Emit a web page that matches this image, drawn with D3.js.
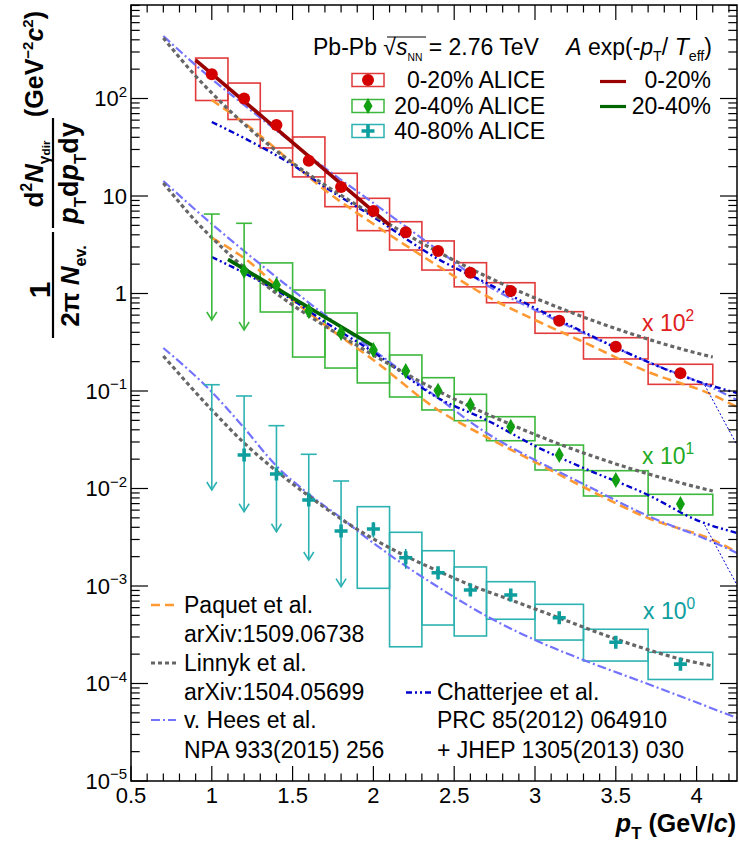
<!DOCTYPE html>
<html><head><meta charset="utf-8">
<script src="https://cdn.jsdelivr.net/npm/d3@7"></script>
<style>body{margin:0;background:#fff}svg{display:block}text{font-family:"Liberation Sans",Arial,Helvetica,sans-serif}</style>
</head><body><svg id="c" width="739" height="845"></svg>
<script>
// ---------------- DATA ----------------
const binCenters = [1.0,1.2,1.4,1.6,1.8,2.0,2.2,2.4,2.6,2.85,3.15,3.5,3.9];
const binLow     = [0.9,1.1,1.3,1.5,1.7,1.9,2.1,2.3,2.5,2.7,3.0,3.3,3.7];
const binHigh    = [1.1,1.3,1.5,1.7,1.9,2.1,2.3,2.5,2.7,3.0,3.3,3.7,4.1];

// 0-20% (x 10^2)
const yield0020   = [177,100,53.5,23.0,12.4,7.0,4.25,2.73,1.63,1.06,0.526,0.284,0.152];
const sysLow0020  = [95.4,60.9,31.1,15.7,7.77,4.41,2.79,1.74,1.17,0.804,0.391,0.213,0.117];
const sysHigh0020 = [260,144,74.4,40.3,17.1,9.47,5.45,3.46,2.07,1.29,0.651,0.352,0.188];

// 20-40% (x 10^1)
const yield2040   = [null,1.70,1.22,0.661,0.394,0.264,0.160,0.1007,0.0718,0.0430,0.0221,0.0122,0.00693];
const sysLow2040  = [null,null,0.646,0.223,0.172,0.121,0.0868,0.0639,0.0496,0.0309,0.01548,0.00838,0.00535];
const sysHigh2040 = [null,null,2.06,1.086,0.631,0.394,0.234,0.1369,0.0925,0.0545,0.0279,0.01523,0.00872];
const ulPt2040  = [1.0,1.2];
const ulCap2040 = [6.53,5.25];
const ulTip2040 = [0.535,0.422];

// 40-80% (x 10^0)
const yield4080   = [null,0.02206,0.01408,0.00762,0.00367,0.00384,0.00195,0.001369,0.00091,0.000809,0.000473,0.000265,0.000158];
const stat4080    = [null,null,null,null,null,0.0007,0.00045,0.0002,0.0001,0.00008,0.00004,0.00002,0.000015];
const sysLow4080  = [null,null,null,null,null,0.000947,0.000238,0.000398,0.000307,0.000456,0.000279,0.00017,0.00011];
const sysHigh4080 = [null,null,null,null,null,0.00651,0.003555,0.0023,0.001567,0.001107,0.000649,0.00036,0.000209];
const ulPt4080  = [1.0,1.2,1.4,1.6,1.8];
const ulCap4080 = [0.1160,0.0889,0.0441,0.02243,0.01194];
const ulTip4080 = [0.00965,0.00578,0.00360,0.00185,0.000984];

// exponential fits A exp(-pT/Teff), end points
const fitPt0020 = [0.9,2.1],  fitVal0020 = [248,5.04];
const fitPt2040 = [1.1,2.0],  fitVal2040 = [2.24,0.289];

// models, 0-20% x100
const linnykPt1 = [0.7,0.9,1.1,1.3,1.5,1.7,2.0,2.4,2.8,3.2,3.6,4.0,4.1];
const linnykV1  = [417.6,170.2,78.1,39.3,21.8,12.97,6.39,2.67,1.252,0.662,0.384,0.245,0.223];
const heesPt1   = [0.7,1.0,1.2,1.5,1.7,2.0,2.4,2.7,3.0,3.3,3.7,4.1,4.25];
const heesV1    = [437.7,158.5,85.8,34.96,19.4,8.48,2.79,1.222,0.677,0.3935,0.1984,0.1074,0.0809];
const paquetPt1 = [1.0,1.2,1.5,1.7,2.0,2.4,2.7,3.0,3.3,3.7,4.1,4.25];
const paquetV1  = [96.5,56.1,21.8,11.52,5.16,1.915,0.943,0.535,0.318,0.1566,0.0910,0.0685];
const chatPt1   = [1.0,1.2,1.5,1.7,2.0,2.4,2.7,3.0,3.3,3.7,4.0,4.25];
const chatV1    = [57.4,39.3,20.8,12.37,6.09,2.26,1.281,0.710,0.403,0.1984,0.1266,0.0954];
const chatTailPt1 = [4.05,4.25], chatTailV1 = [0.1152,0.0279];

// models, 20-40% x10
const linnykPt2 = [0.7,0.9,1.1,1.3,1.5,1.7,2.0,2.4,2.8,3.2,3.6,4.0,4.1];
const linnykV2  = [13.59,5.54,2.60,1.343,0.762,0.464,0.234,0.100,0.0493,0.0266,0.01585,0.01036,0.00943];
const heesPt2   = [0.7,1.0,1.2,1.5,1.7,2.0,2.4,2.7,3.0,3.3,3.7,4.1,4.25];
const heesV2    = [14.25,5.16,2.73,1.086,0.602,0.2634,0.0848,0.0371,0.0196,0.01112,0.00522,0.00283,0.00218];
const paquetPt2 = [1.0,1.2,1.5,1.7,2.0,2.4,2.7,3.0,3.3,3.7,4.1,4.25];
const paquetV2  = [3.71,2.31,0.858,0.475,0.208,0.0639,0.0337,0.0187,0.01036,0.00498,0.00296,0.00223];
const chatPt2   = [1.0,1.2,1.5,1.7,2.0,2.4,2.7,3.0,3.3,3.7,4.0,4.25];
const chatV2    = [2.37,1.623,0.858,0.510,0.251,0.0848,0.0504,0.0273,0.01623,0.00858,0.00475,0.00350];
const chatTailPt2 = [4.05,4.25], chatTailV2 = [0.00422,0.001024];

// models, 40-80% x1
const linnykPt3 = [0.7,1.0,1.2,1.4,1.6,1.8,2.0,2.2,2.4,2.6,2.85,3.15,3.5,3.9,4.1];
const linnykV3  = [0.2286,0.0639,0.0293,0.01512,0.00838,0.00487,0.00304,0.00203,0.001425,0.001024,0.000719,0.000470,0.000286,0.0001784,0.0001512];
const heesPt3   = [0.7,1.0,1.2,1.4,1.6,1.8,2.0,2.2,2.4,2.7,3.0,3.3,3.7,4.25];
const heesV3    = [0.2761,0.0977,0.04174,0.01701,0.00878,0.00498,0.00276,0.001604,0.000977,0.000492,0.0002794,0.0001742,0.0000988,0.0000443];

const xTickLabels = ["0.5","1","1.5","2","2.5","3","3.5","4"];
const yTickExps = [-5,-4,-3,-2,-1,0,1,2];

// ---------------- DRAWING ----------------
const svg = d3.select('#c');
const x = d3.scaleLinear().domain([0.5,4.25]).range([131,737]);
const y = d3.scaleLog().domain([1e-5,910]).range([781,5]);
const L = 131, R = 737, T = 5, B = 781;

const cRed='#d40000', cRedBox='#e23a3a', cGreen='#12a012', cGreenBox='#3cb83c', cCyan='#0e9e9e', cCyanBox='#2db2b2';
const cPaq='#ff9933', cLin='#666666', cHees='#7373ff', cChat='#0000cc';
const FS = 23;

function rich(t, parts, size){
  let cur=0;
  parts.forEach(p=>{
    const off = p.s==='sup' ? -0.42*size : p.s==='sub' ? 0.28*size : 0;
    const ts = t.append('tspan').text(p.t).attr('dy', (off-cur).toFixed(2));
    cur=off;
    if(p.f) ts.attr('font-size', (size*p.f).toFixed(1));
    else if(p.s) ts.attr('font-size', (size*0.62).toFixed(1));
    if(p.it) ts.attr('font-style','italic');
    if(p.b) ts.attr('font-weight','bold');
  });
  return t;
}
function txt(xp, yp, parts, size, opt={}){
  const t = svg.append('text').attr('x',xp).attr('y',yp).attr('font-size',size)
    .attr('fill',opt.fill||'#000').attr('text-anchor',opt.anchor||'start');
  if(opt.bold) t.attr('font-weight','bold');
  if(typeof parts==='string') t.text(parts); else rich(t,parts,size);
  return t;
}

// ---- systematic boxes ----
function boxes(lo, hi, color){
  const g = svg.append('g').attr('fill','none').attr('stroke',color).attr('stroke-width',1.6);
  binCenters.forEach((c,i)=>{
    if(lo[i]==null) return;
    g.append('rect').attr('x',x(binLow[i])).attr('width',x(binHigh[i])-x(binLow[i]))
      .attr('y',y(hi[i])).attr('height',y(lo[i])-y(hi[i]));
  });
}
boxes(sysLow0020, sysHigh0020, cRedBox);
boxes(sysLow2040, sysHigh2040, cGreenBox);
boxes(sysLow4080, sysHigh4080, cCyanBox);

// ---- model curves ----
svg.append('clipPath').attr('id','clp').append('rect').attr('x',L).attr('y',T).attr('width',R-L).attr('height',B-T);
const curves = svg.append('g').attr('clip-path','url(#clp)');
function curve(pts, vals, color, width, dash){
  const line = d3.line().x(d=>x(d[0])).y(d=>y(d[1])).curve(d3.curveMonotoneX);
  curves.append('path').attr('d', line(pts.map((p,i)=>[p,vals[i]])))
    .attr('fill','none').attr('stroke',color).attr('stroke-width',width).attr('stroke-dasharray',dash);
}
const dPaq='9,5', dLin='4,3', dHees='9,3,2,3', dChat='6,3,2,3,2,3';
curve(paquetPt1,paquetV1,cPaq,2.6,dPaq);
curve(paquetPt2,paquetV2,cPaq,2.6,dPaq);
curve(heesPt1,heesV1,cHees,2.2,dHees);
curve(heesPt2,heesV2,cHees,2.2,dHees);
curve(heesPt3,heesV3,cHees,2.2,dHees);
curve(chatPt1,chatV1,cChat,2.4,dChat);
curve(chatPt2,chatV2,cChat,2.4,dChat);
curve(chatTailPt1,chatTailV1,cChat,1,'2,2');
curve(chatTailPt2,chatTailV2,cChat,1,'2,2');
curve(linnykPt1,linnykV1,cLin,3.2,dLin);
curve(linnykPt2,linnykV2,cLin,3.2,dLin);
curve(linnykPt3,linnykV3,cLin,3.2,dLin);

// ---- fit lines ----
function fit(pts, vals, color){
  svg.append('line').attr('x1',x(pts[0])).attr('y1',y(vals[0])).attr('x2',x(pts[1])).attr('y2',y(vals[1]))
    .attr('stroke',color).attr('stroke-width',3.6);
}
fit(fitPt0020, fitVal0020, '#990000');
fit(fitPt2040, fitVal2040, '#006600');

// ---- upper limits ----
function upperLimits(pts, caps, tips, color){
  const g = svg.append('g').attr('stroke',color).attr('stroke-width',1.6).attr('fill','none');
  pts.forEach((p,i)=>{
    const xp=x(p), yc=y(caps[i]), yt=y(tips[i]);
    g.append('line').attr('x1',xp).attr('x2',xp).attr('y1',yc).attr('y2',yt);
    g.append('line').attr('x1',xp-8).attr('x2',xp+8).attr('y1',yc).attr('y2',yc);
    g.append('path').attr('d',`M${xp-5},${yt-8}L${xp},${yt}L${xp+5},${yt-8}`);
  });
}
upperLimits(ulPt2040, ulCap2040, ulTip2040, cGreenBox);
upperLimits(ulPt4080, ulCap4080, ulTip4080, cCyanBox);

binCenters.forEach((c,i)=>{
  if(stat4080[i]==null) return;
  svg.append('line').attr('x1',x(c)).attr('x2',x(c)).attr('y1',y(yield4080[i]+stat4080[i])).attr('y2',y(yield4080[i]-stat4080[i]))
    .attr('stroke',cCyan).attr('stroke-width',1.6);
});

// ---- markers ----
const sym = {
  circle: (g,cx,cy,col)=>g.append('circle').attr('cx',cx).attr('cy',cy).attr('r',6).attr('fill',col),
  diamond:(g,cx,cy,col)=>g.append('path').attr('d',`M${cx},${cy-8}L${cx+4.5},${cy}L${cx},${cy+8}L${cx-4.5},${cy}Z`).attr('fill',col),
  cross:  (g,cx,cy,col)=>g.append('path').attr('d',`M${cx-1.8},${cy-6.5}h3.6v4.7h4.7v3.6h-4.7v4.7h-3.6v-4.7h-4.7v-3.6h4.7z`).attr('fill',col)
};
const mk = svg.append('g');
binCenters.forEach((c,i)=>{
  if(yield0020[i]!=null) sym.circle(mk,x(c),y(yield0020[i]),cRed);
  if(yield2040[i]!=null) sym.diamond(mk,x(c),y(yield2040[i]),cGreen);
  if(yield4080[i]!=null) sym.cross(mk,x(c),y(yield4080[i]),cCyan);
});

// ---- frame and ticks ----
const ax = svg.append('g').attr('stroke','#000').attr('stroke-width',1.2);
ax.append('rect').attr('x',L).attr('y',T).attr('width',R-L).attr('height',B-T).attr('fill','none').attr('stroke-width',1.5);
d3.range(5,43).map(v=>v/10).filter(v=>v<=4.25).forEach(v=>{
  const major = Math.abs(v*2-Math.round(v*2))<1e-6;
  const len = major?15:7.5, xp=x(v);
  ax.append('line').attr('x1',xp).attr('x2',xp).attr('y1',B).attr('y2',B-len);
  ax.append('line').attr('x1',xp).attr('x2',xp).attr('y1',T).attr('y2',T+len);
});
for(let e=-5;e<=2;e++){
  for(let m=1;m<=9;m++){
    const v=m*Math.pow(10,e); if(v>910) break;
    const len = m===1?17:8.7, yp=y(v);
    ax.append('line').attr('x1',L).attr('x2',L+len).attr('y1',yp).attr('y2',yp);
    ax.append('line').attr('x1',R).attr('x2',R-len).attr('y1',yp).attr('y2',yp);
  }
}
xTickLabels.forEach(s=> txt(x(+s), 803, s, 22, {anchor:'middle'}));
yTickExps.forEach(e=>{
  const yp = y(Math.pow(10,e))+7.5;
  if(e===0) txt(127,yp,'1',22,{anchor:'end'});
  else if(e===1) txt(127,yp,'10',22,{anchor:'end'});
  else txt(127,yp,[{t:'10'},{t:(e<0?'\u2212':'')+Math.abs(e),s:'sup',f:0.68}],22,{anchor:'end'});
});

// ---- axis titles ----
txt(736, 832, [{t:'p',it:true},{t:'T',s:'sub',f:0.68},{t:' (GeV/'},{t:'c',it:true},{t:')'}], 25, {anchor:'end',bold:true});

function rtext(cx, cy, parts, size){
  const t = svg.append('text').attr('transform',`translate(${cx},${cy}) rotate(-90)`)
    .attr('font-size',size).attr('font-weight','bold').attr('text-anchor','middle');
  rich(t,parts,size); return t;
}
rtext(50, 290, [{t:'1'}], 30);
svg.append('line').attr('x1',53).attr('x2',53).attr('y1',232).attr('y2',338).attr('stroke','#000').attr('stroke-width',2.2);
rtext(79, 286, [{t:'2\u03c0 '},{t:'N',it:true},{t:'ev.',s:'sub',f:0.62}], 26);
rtext(43, 174, [{t:'d'},{t:'2',s:'sup',f:0.6},{t:'N',it:true},{t:'\u03b3',s:'sub',f:0.6},{t:'dir',s:'sub',f:0.45}], 26);
svg.append('line').attr('x1',53).attr('x2',53).attr('y1',118).attr('y2',228).attr('stroke','#000').attr('stroke-width',2.2);
rtext(78, 173, [{t:'p',it:true},{t:'T',s:'sub',f:0.62},{t:'d'},{t:'p',it:true},{t:'T',s:'sub',f:0.62},{t:'dy'}], 27);
rtext(43, 64, [{t:'(GeV'},{t:'\u22122',s:'sup',f:0.6},{t:'c',it:true},{t:'2',s:'sup',f:0.6},{t:')'}], 25);

// ---- top legend ----
txt(313, 55, [{t:'Pb-Pb '},{t:'\u221a'},{t:'s',it:true},{t:'NN',s:'sub',f:0.45},{t:' = 2.76 TeV'}], FS);
txt(712, 55, [{t:'A',it:true},{t:' exp(-'},{t:'p',it:true},{t:'T',s:'sub',f:0.62},{t:'/ '},{t:'T',it:true},{t:'eff',s:'sub',f:0.62},{t:')'}], FS, {anchor:'end'});
svg.append('line').attr('x1',387).attr('x2',426).attr('y1',37).attr('y2',37).attr('stroke','#000').attr('stroke-width',1.2);

const legRows = [
  {lab:' 0-20% ALICE', yc:80, box:cRedBox, m:'circle', col:cRed},
  {lab:'20-40% ALICE', yc:106, box:cGreenBox, m:'diamond', col:cGreen},
  {lab:'40-80% ALICE', yc:131, box:cCyanBox, m:'cross', col:cCyan}
];
legRows.forEach(r=>{
  svg.append('rect').attr('x',352).attr('y',r.yc-6.5).attr('width',32).attr('height',13).attr('fill','none').attr('stroke',r.box).attr('stroke-width',1.5);
  sym[r.m](svg,368,r.yc,r.col);
  txt(545, r.yc+7.5, r.lab, FS, {anchor:'end'});
});
svg.append('line').attr('x1',600).attr('x2',626).attr('y1',81.5).attr('y2',81.5).attr('stroke','#990000').attr('stroke-width',3.2);
txt(711, 87.5, '0-20%', FS, {anchor:'end'});
svg.append('line').attr('x1',600).attr('x2',626).attr('y1',106.5).attr('y2',106.5).attr('stroke','#006600').attr('stroke-width',3.2);
txt(711, 113.5, '20-40%', FS, {anchor:'end'});

// ---- scale annotations ----
txt(642, 331, [{t:'x 10'},{t:'2',s:'sup',f:0.68}], FS, {fill:'#e02020'});
txt(642, 464, [{t:'x 10'},{t:'1',s:'sup',f:0.68}], FS, {fill:'#22aa22'});
txt(643, 619, [{t:'x 10'},{t:'0',s:'sup',f:0.68}], FS, {fill:cCyan});

// ---- model legend ----
function legLine(x1,yy,color,w,dash){
  svg.append('line').attr('x1',x1).attr('x2',x1+25).attr('y1',yy).attr('y2',yy).attr('stroke',color).attr('stroke-width',w).attr('stroke-dasharray',dash);
}
legLine(151,605,cPaq,2.6,dPaq);
txt(184,612.5,'Paquet et al.',FS);
txt(184,642,'arXiv:1509.06738',FS);
legLine(151,663,cLin,3.2,dLin);
txt(184,671,'Linnyk et al.',FS);
txt(184,700,'arXiv:1504.05699',FS);
legLine(151,720,cHees,2.2,dHees);
txt(184,727.5,'v. Hees et al.',FS);
txt(184,757.5,'NPA 933(2015) 256',FS);
legLine(406,692.5,cChat,2.4,dChat);
txt(437,700,'Chatterjee et al.',FS);
txt(437,727.5,'PRC 85(2012) 064910',FS);
txt(437,757.5,'+ JHEP 1305(2013) 030',FS);
</script></body></html>
